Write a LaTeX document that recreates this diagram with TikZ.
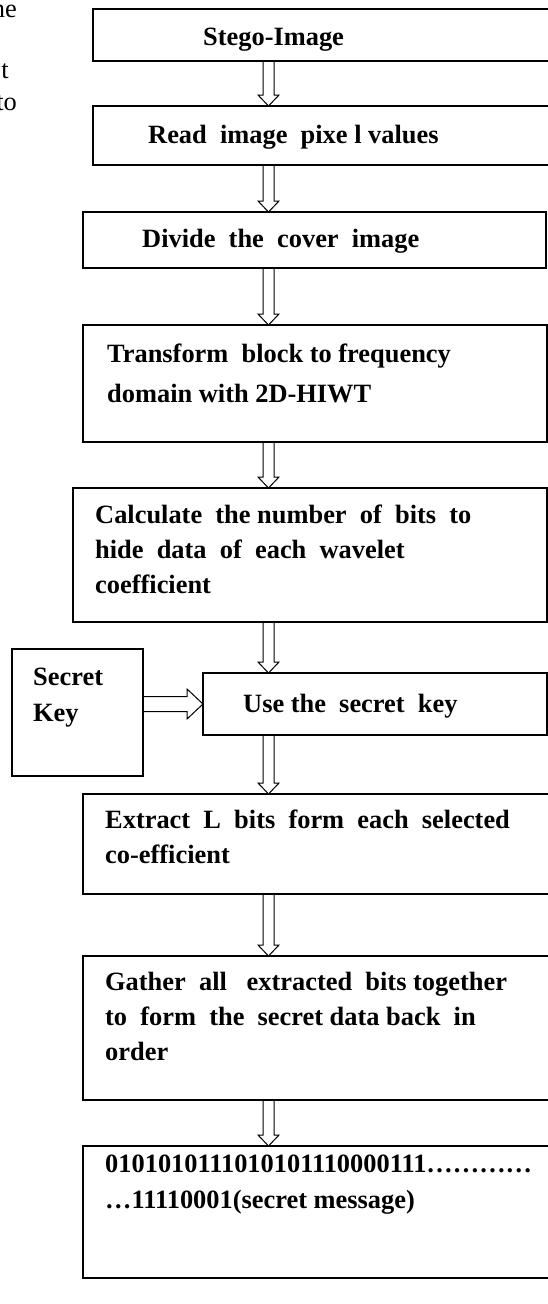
\documentclass[tikz,border=0pt]{standalone}
\usepackage{fontspec}
\setmainfont{Liberation Serif}
\usetikzlibrary{calc}
\begin{document}
\begin{tikzpicture}[x=1pt,y=-1pt,
  box/.style={draw, line width=1.2pt, inner sep=0pt, outer sep=0pt, anchor=north west},
  txt/.style={anchor=base west, inner sep=0pt, font=\fontsize{26.4}{35}\selectfont\bfseries},
  frag/.style={anchor=base east, inner sep=0pt, font=\fontsize{26.4}{35}\selectfont},
  blk/.style={draw, line width=1pt, line join=miter}]
\useasboundingbox (0,0) rectangle (548,1304);
\clip (0,0) rectangle (548,1304);
% page fragments
\node[frag] (f1) at (17,17) {he};
\node[frag] (f2) at (9,78) {t};
\node[frag] (f3) at (17,110) {to};
% boxes
\node[box, minimum width=467pt, minimum height=52pt] (stego) at (93,9) {};
\node[box, minimum width=467pt, minimum height=59pt] (read) at (93,106) {};
\node[box, minimum width=463pt, minimum height=56pt] (divide) at (83,212) {};
\node[box, minimum width=464pt, minimum height=117pt] (transf) at (83,325) {};
\node[box, minimum width=474pt, minimum height=134pt] (calc) at (73,488) {};
\node[box, minimum width=131pt, minimum height=127pt] (key) at (12,649) {};
\node[box, minimum width=344pt, minimum height=62pt] (use) at (203,673) {};
\node[box, minimum width=477pt, minimum height=100pt] (extract) at (83,794) {};
\node[box, minimum width=477pt, minimum height=144pt] (gather) at (83,956) {};
\node[box, minimum width=477pt, minimum height=132pt] (final) at (83,1146) {};
% texts
\node[txt] (t1) at (203,45) {Stego-Image};
\node[txt] (t2) at (148,143) {Read~ image~ pixe l values};
\node[txt] (t3) at (142,247) {Divide~ the~ cover~ image};
\node[txt] (t4a) at (107,362) {Transform~ block to frequency};
\node[txt] (t4b) at (107,402) {domain with 2D-HIWT};
\node[txt] (t5a) at (95,523) {Calculate~ the number~ of~ bits~ to};
\node[txt] (t5b) at (95,558) {hide~ data~ of~ each~ wavelet};
\node[txt] (t5c) at (95,593) {coefficient};
\node[txt] (tka) at (33,685) {Secret};
\node[txt] (tkb) at (33,721) {Key};
\node[txt] (tu) at (243,712) {Use the~ secret~ key};
\node[txt] (t6a) at (105,828) {Extract~ L~ bits~ form~ each~ selected};
\node[txt] (t6b) at (105,863) {co-efficient};
\node[txt] (t7a) at (105,990) {Gather~ all~~ extracted~ bits together};
\node[txt] (t7b) at (105,1025) {to~ form~ the~ secret data back~ in};
\node[txt] (t7c) at (105,1060) {order};
\node[txt] (t8a) at (105,1172) {0101010111010101110000111…………};
\node[txt] (t8b) at (105,1208) {…11110001(secret message)};
% arrows
\coordinate (ax) at (268.5,0);
\newcommand\varrow[2]{\path[blk] let \p1=(ax |- #1.south), \p2=(ax |- #2.north) in
  (\x1-5.5pt,\y1) -- (\x1-5.5pt,\y2+11pt) -- (\x1-10.5pt,\y2+11pt) -- (\x1,\y2)
  -- (\x1+10.5pt,\y2+11pt) -- (\x1+5.5pt,\y2+11pt) -- (\x1+5.5pt,\y1);}
\varrow{stego}{read}
\varrow{read}{divide}
\varrow{divide}{transf}
\varrow{transf}{calc}
\varrow{calc}{use}
\varrow{use}{extract}
\varrow{extract}{gather}
\varrow{gather}{final}
\path[blk] let \p1=(key.east |- use.west), \p2=(use.west) in
  (\x1,\y2+7.5pt) -- (\x2-16pt,\y2+7.5pt) -- (\x2-16pt,\y2+15pt) -- (\x2,\y2)
  -- (\x2-16pt,\y2-15pt) -- (\x2-16pt,\y2-7.5pt) -- (\x1,\y2-7.5pt);
\end{tikzpicture}
\end{document}
